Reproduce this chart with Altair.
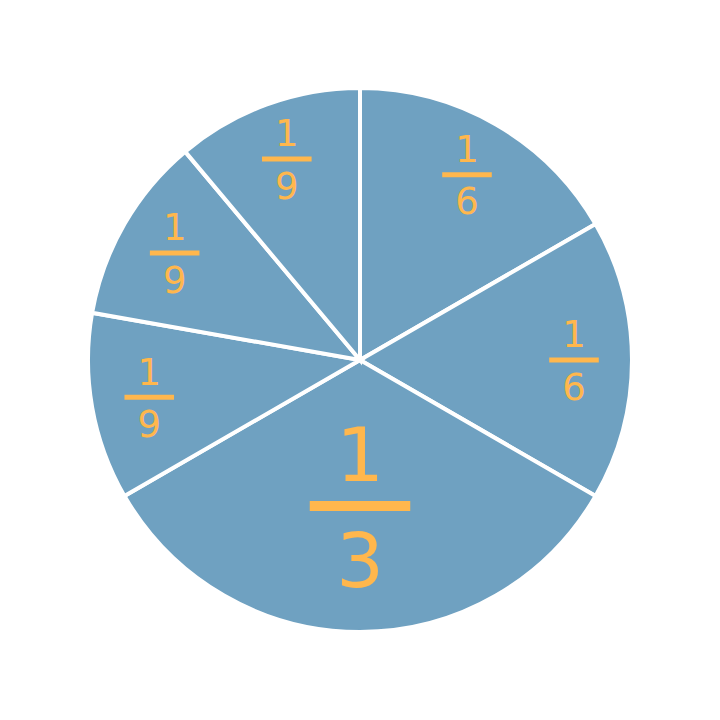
import altair as alt
import pandas as pd

# Pie slices, clockwise from 12 o'clock
numerators = [1, 1, 1, 1, 1, 1]
denominators = [6, 6, 3, 9, 9, 9]
slice_order = [0, 1, 2, 3, 4, 5]

df = pd.DataFrame({"num": numerators, "den": denominators, "order": slice_order})

SLICE = "#6fa1c1"
LABEL = "#ffb74d"
FONT = "DejaVu Sans"
HALF = 352  # half of the plot area in pixels

base = alt.Chart(df).transform_calculate(value="datum.num / datum.den")

pie = base.mark_arc(outerRadius=272, stroke="white", strokeWidth=4, fill=SLICE).encode(
    theta=alt.Theta("value:Q", stack=True),
    order=alt.Order("order:Q"),
)

lab = base.transform_window(
    cum="sum(value)", sort=[alt.SortField("order")], frame=[None, 0]
).transform_calculate(
    mid="2*PI*(datum.cum - datum.value/2)",
    fs="datum.value > 0.3 ? 75 : 37",
    r="datum.value > 0.3 ? 146 : 214",
).transform_calculate(
    cx="datum.r*sin(datum.mid)",
    cy="datum.r*cos(datum.mid)",
).transform_calculate(
    ny="datum.cy + 0.34*datum.fs",
    dny="datum.cy - 1.075*datum.fs",
    bx1="datum.cx - 0.67*datum.fs",
    bx2="datum.cx + 0.67*datum.fs",
    bw="0.135*datum.fs",
    ntext="'' + datum.num",
    dtext="'' + datum.den",
)

xs = alt.Scale(domain=[-HALF, HALF], nice=False, zero=False)
ys = alt.Scale(domain=[-HALF, HALF], nice=False, zero=False)

numer = lab.mark_text(font=FONT, baseline="alphabetic", align="center", color=LABEL).encode(
    x=alt.X("cx:Q", scale=xs, axis=None),
    y=alt.Y("ny:Q", scale=ys, axis=None),
    text="ntext:N",
    size=alt.Size("fs:Q", scale=None),
)

denom = lab.mark_text(font=FONT, baseline="alphabetic", align="center", color=LABEL).encode(
    x=alt.X("cx:Q", scale=xs, axis=None),
    y=alt.Y("dny:Q", scale=ys, axis=None),
    text="dtext:N",
    size=alt.Size("fs:Q", scale=None),
)

bars = lab.mark_rule(color=LABEL, strokeCap="butt").encode(
    x=alt.X("bx1:Q", scale=xs, axis=None),
    x2="bx2:Q",
    y=alt.Y("cy:Q", scale=ys, axis=None),
    strokeWidth=alt.StrokeWidth("bw:Q", scale=None),
)

chart = alt.layer(pie, bars, numer, denom).properties(
    width=704,
    height=704,
    padding=0,
    autosize=alt.AutoSizeParams(type="fit", contains="padding"),
).configure_view(stroke=None)

chart.save("out.html", embed_options={"renderer": "svg", "actions": False})
